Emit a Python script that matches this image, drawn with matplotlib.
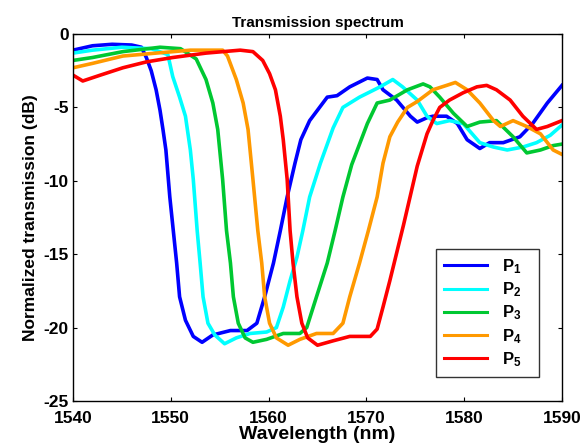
import matplotlib
matplotlib.use('Agg')
import matplotlib.pyplot as plt

plt.rcParams['font.family'] = ['Liberation Sans', 'DejaVu Sans']
plt.rcParams['axes.unicode_minus'] = False
plt.rcParams['mathtext.fontset'] = 'custom'
plt.rcParams['mathtext.bf'] = 'Liberation Sans:bold'
plt.rcParams['mathtext.rm'] = 'Liberation Sans'

# ---- data (wavelength nm, transmission dB) ----
p1_x = [1540, 1542, 1544, 1546, 1547, 1547.5, 1548.0, 1548.5, 1548.9, 1549.2, 1549.5,
        1549.9, 1550.6, 1550.9, 1551.5, 1552.3, 1553.2, 1554.3, 1556.1, 1557.8, 1558.8,
        1559.6, 1560.5, 1561.2, 1561.9, 1562.7, 1563.3, 1564.2, 1566.0, 1567.0, 1568.3,
        1570.1, 1571.1, 1571.7, 1573.1, 1574.5, 1575.2, 1576.2, 1576.8, 1578.2, 1579.3,
        1580.3, 1581.6, 1582.6, 1584.0, 1585.7, 1587.0, 1588.5, 1590]
p1_y = [-1.1, -0.8, -0.7, -0.75, -0.9, -1.6, -2.5, -3.8, -5.2, -6.5, -7.9,
        -11.1, -15.6, -17.9, -19.5, -20.6, -21.0, -20.5, -20.2, -20.2, -19.7,
        -17.9, -15.6, -13.4, -11.1, -8.8, -7.2, -5.9, -4.3, -4.2, -3.6,
        -3.0, -3.1, -3.8, -4.5, -5.6, -6.0, -5.7, -5.6, -5.6, -6.1,
        -7.2, -7.8, -7.4, -7.4, -7.0, -6.1, -4.7, -3.5]

p2_x = [1540, 1542, 1545, 1548, 1549.7, 1550.2, 1550.9, 1551.5, 1552.0, 1552.3, 1552.7,
        1553.0, 1553.3, 1553.8, 1554.5, 1555.5, 1556.7, 1558.1, 1559.8, 1560.8, 1561.5,
        1562.2, 1562.9, 1563.5, 1564.2, 1565.3, 1566.6, 1567.6, 1569.3, 1571.4, 1572.7,
        1573.7, 1575.2, 1576.2, 1577.2, 1578.5, 1579.9, 1581.6, 1583.0, 1584.4, 1586.0,
        1587.4, 1588.8, 1590]
p2_y = [-1.3, -1.1, -0.9, -1.0, -1.4, -2.9, -4.3, -5.6, -7.9, -9.9, -13.4,
        -15.6, -17.9, -19.7, -20.5, -21.1, -20.7, -20.4, -20.3, -20.0, -18.6,
        -16.8, -15.2, -13.4, -11.1, -8.8, -6.4, -5.0, -4.3, -3.6, -3.1,
        -3.6, -4.5, -5.6, -6.1, -5.9, -6.1, -7.4, -7.7, -7.9, -7.7,
        -7.4, -6.9, -6.2]

p3_x = [1540, 1542, 1545.1, 1548.9, 1551.0, 1552.6, 1553.6, 1554.3, 1554.8, 1555.3, 1555.7,
        1556.1, 1556.4, 1556.9, 1557.6, 1558.4, 1559.8, 1561.5, 1563.2, 1563.9, 1564.9,
        1566.0, 1566.8, 1567.6, 1568.5, 1570.1, 1571.1, 1572.4, 1574.2, 1575.8, 1576.5,
        1577.5, 1578.9, 1580.3, 1581.6, 1583.3, 1585.0, 1586.4, 1587.8, 1589.1, 1590]
p3_y = [-1.8, -1.6, -1.2, -0.9, -1.0, -1.7, -3.1, -4.7, -6.5, -9.9, -13.4,
        -15.6, -17.9, -19.7, -20.7, -21.0, -20.8, -20.4, -20.4, -20.0, -17.9,
        -15.6, -13.4, -11.1, -8.9, -6.1, -4.7, -4.5, -3.8, -3.4, -3.6,
        -4.3, -5.4, -6.3, -6.0, -5.9, -7.0, -8.1, -7.9, -7.6, -7.5]

p4_x = [1540, 1542, 1545.1, 1548.5, 1552.0, 1555.3, 1555.8, 1556.7, 1557.4, 1557.9, 1558.4,
        1558.9, 1559.3, 1559.6, 1560.1, 1560.8, 1562.0, 1563.2, 1564.9, 1566.6, 1567.6,
        1568.3, 1569.3, 1570.2, 1571.1, 1571.7, 1572.4, 1573.2, 1574.2, 1575.2, 1576.8,
        1578.2, 1579.1, 1580.3, 1581.6, 1583.0, 1583.7, 1585.0, 1586.4, 1587.8, 1589.1,
        1590]
p4_y = [-2.3, -2.0, -1.5, -1.3, -1.1, -1.1, -1.5, -3.1, -4.7, -6.5, -9.9,
        -13.4, -15.6, -17.9, -19.7, -20.7, -21.2, -20.8, -20.4, -20.4, -19.7,
        -17.9, -15.6, -13.4, -11.1, -8.8, -7.0, -6.0, -5.0, -4.6, -3.8,
        -3.5, -3.3, -3.8, -4.7, -5.9, -6.3, -5.9, -6.3, -6.8, -7.9,
        -8.2]

p5_x = [1540, 1541, 1542.8, 1545.1, 1547.5, 1550.2, 1553.6, 1557.1, 1558.4, 1559.4, 1560.1,
        1560.7, 1561.2, 1561.5, 1561.9, 1562.2, 1562.5, 1562.9, 1563.4, 1564.0, 1565.0,
        1566.6, 1568.3, 1570.4, 1571.1, 1571.7, 1572.4, 1573.8, 1575.2, 1576.2, 1576.8,
        1577.5, 1578.5, 1579.9, 1581.3, 1582.3, 1583.3, 1584.7, 1586.0, 1587.4, 1588.5,
        1590]
p5_y = [-2.8, -3.2, -2.8, -2.3, -1.9, -1.6, -1.3, -1.1, -1.2, -1.8, -2.7,
        -3.8, -5.6, -7.2, -9.9, -13.4, -15.6, -17.9, -19.7, -20.7, -21.2,
        -20.9, -20.6, -20.6, -20.1, -18.6, -16.8, -13.0, -9.0, -6.8, -5.9,
        -5.0, -4.5, -4.0, -3.6, -3.5, -3.8, -4.5, -5.6, -6.5, -6.3,
        -5.9]

series = [(p1_x, p1_y), (p2_x, p2_y), (p3_x, p3_y), (p4_x, p4_y), (p5_x, p5_y)]
labels = [r'$\mathbf{P_1}$', r'$\mathbf{P_2}$', r'$\mathbf{P_3}$', r'$\mathbf{P_4}$', r'$\mathbf{P_5}$']
colors = ['#0000ff', '#00ffff', '#00c832', '#ff9900', '#ff0000']

fig = plt.figure(figsize=(5.82, 4.47), dpi=100)
ax = fig.add_axes([0.1254, 0.1029, 0.8402, 0.8210])

for (xs, ys), lab, c in zip(series, labels, colors):
    ax.plot(xs, ys, color=c, lw=2.6, label=lab)

ax.set_xlim(1540, 1590)
ax.set_ylim(-25, 0)
ax.set_xticks([1540, 1550, 1560, 1570, 1580, 1590])
ax.set_yticks([-25, -20, -15, -10, -5, 0])
ax.tick_params(direction='in', top=True, right=True, length=3, width=0.8,
               labelsize=12.5)
ax.tick_params(axis='x', pad=7)
ax.tick_params(axis='y', pad=3)
for t in ax.get_xticklabels() + ax.get_yticklabels():
    t.set_fontweight('bold')
for s in ax.spines.values():
    s.set_linewidth(1.0)

ax.set_title('Transmission spectrum', fontsize=11, fontweight='bold', pad=5)
ax.set_xlabel('Wavelength (nm)', fontsize=14, fontweight='bold', labelpad=0)
ax.set_ylabel('Normalized transmission (dB)', fontsize=12.5, fontweight='bold', labelpad=4)

leg = ax.legend(loc='lower left', bbox_to_anchor=(0.742, 0.065, 0.211, 0.333),
                mode='expand', fontsize=12, frameon=True, fancybox=False,
                edgecolor='black', handlelength=2.6, labelspacing=0.27,
                borderpad=0.5, handletextpad=0.9, borderaxespad=0)
leg.get_frame().set_linewidth(1.0)
for line in leg.get_lines():
    line.set_linewidth(2.2)

fig.savefig('out.png', dpi=100)
